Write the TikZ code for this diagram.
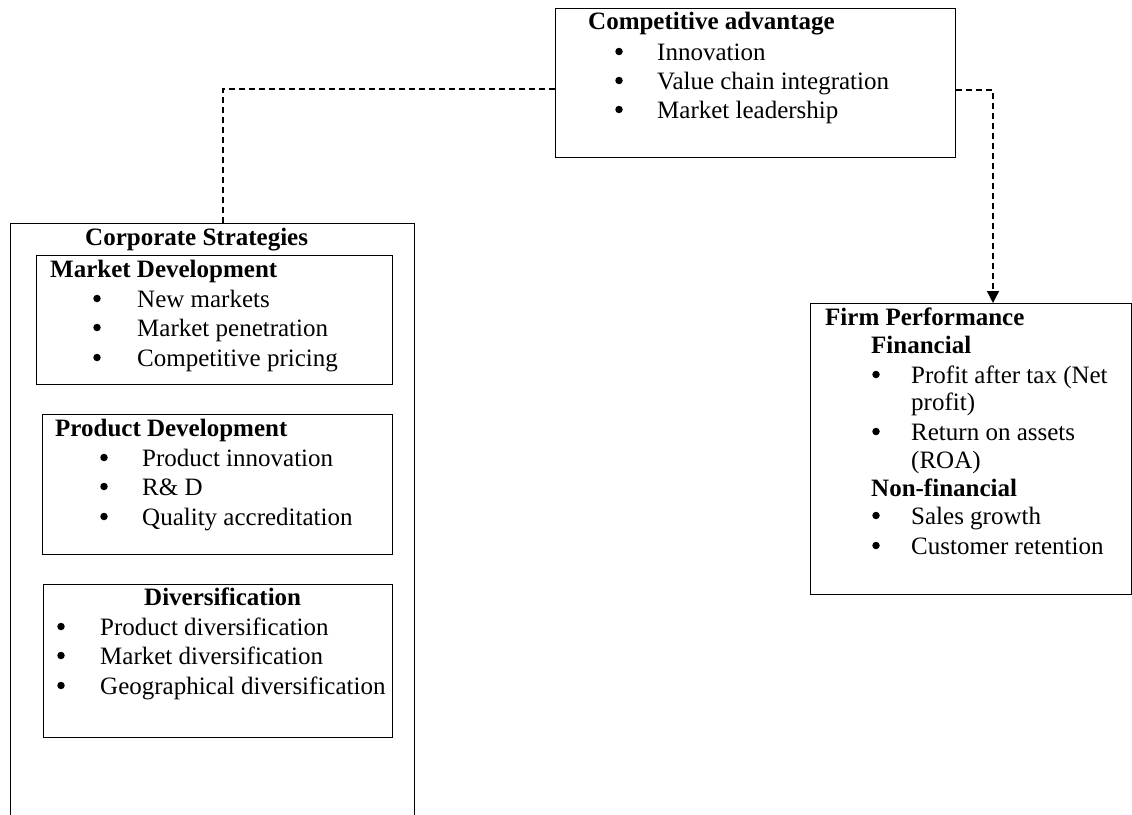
\documentclass[tikz,border=0pt]{standalone}
\usepackage{fontspec}
\setmainfont{Liberation Serif}
\usetikzlibrary{arrows.meta}
\begin{document}
\begin{tikzpicture}[x=1pt,y=-1pt,
 box/.style={draw, line width=1.3pt, inner sep=0pt, anchor=north west},
 txt/.style={anchor=base west, inner sep=0pt, font=\fontsize{25}{29}\selectfont},
 ttl/.style={anchor=base west, inner sep=0pt, font=\fontsize{25}{29}\selectfont\bfseries},
 bul/.style={circle, fill, inner sep=0pt, minimum size=7.5pt, yshift=8.5pt},
 conn/.style={line width=1.3pt, dash pattern=on 6pt off 4pt}]
\clip (0,0) rectangle (1132,814);
% boxes
\node[box, minimum width=400pt, minimum height=149pt] (ca) at (555,8) {};
\node[box, minimum width=404pt, minimum height=640pt] (cs) at (10,223) {};
\node[box, minimum width=356pt, minimum height=129pt] (md) at (36,255) {};
\node[box, minimum width=350pt, minimum height=140pt] (pd) at (42,414) {};
\node[box, minimum width=349pt, minimum height=153pt] (dv) at (43,584) {};
\node[box, minimum width=321pt, minimum height=291pt] (fp) at (810,303) {};
% competitive advantage
\node[ttl] (caT) at (588,29) {Competitive advantage};
\node[bul] (cab1) at (619,60) {};
\node[txt] (ca1) at (657,60) {Innovation};
\node[bul] (cab2) at (619,89) {};
\node[txt] (ca2) at (657,89) {Value chain integration};
\node[bul] (cab3) at (619,118) {};
\node[txt] (ca3) at (657,118) {Market leadership};
% corporate strategies
\node[ttl] (csT) at (85,245) {Corporate Strategies};
\node[ttl] (mdT) at (50,277) {Market Development};
\node[bul] (mdb1) at (97,307) {};
\node[txt] (md1) at (137,307) {New markets};
\node[bul] (mdb2) at (97,336) {};
\node[txt] (md2) at (137,336) {Market penetration};
\node[bul] (mdb3) at (97,366) {};
\node[txt] (md3) at (137,366) {Competitive pricing};
\node[ttl] (pdT) at (55,436) {Product Development};
\node[bul] (pdb1) at (104,466) {};
\node[txt] (pd1) at (142,466) {Product innovation};
\node[bul] (pdb2) at (104,495) {};
\node[txt] (pd2) at (142,495) {R\& D};
\node[bul] (pdb3) at (104,525) {};
\node[txt] (pd3) at (142,525) {Quality accreditation};
\node[ttl] (dvT) at (144,605) {Diversification};
\node[bul] (dvb1) at (61,635) {};
\node[txt] (dv1) at (100,635) {Product diversification};
\node[bul] (dvb2) at (61,664) {};
\node[txt] (dv2) at (100,664) {Market diversification};
\node[bul] (dvb3) at (61,694) {};
\node[txt] (dv3) at (100,694) {Geographical diversification};
% firm performance
\node[ttl] (fpT) at (825,325) {Firm Performance};
\node[ttl] (fpF) at (871,353) {Financial};
\node[bul] (fpb1) at (876,383) {};
\node[txt] (fp1) at (911,383) {Profit after tax (Net};
\node[txt] (fp1b) at (911,410) {profit)};
\node[bul] (fpb2) at (876,440) {};
\node[txt] (fp2) at (911,440) {Return on assets};
\node[txt] (fp2b) at (911,468) {(ROA)};
\node[ttl] (fpN) at (871,496) {Non-financial};
\node[bul] (fpb3) at (876,524) {};
\node[txt] (fp3) at (911,524) {Sales growth};
\node[bul] (fpb4) at (876,554) {};
\node[txt] (fp4) at (911,554) {Customer retention};
% connectors
\draw[conn] (ca.west |- 0,89) -| (cs.north -| 223,0);
\draw[conn, -{Triangle[length=12pt,width=12pt]}] (ca.east |- 0,90) -| (fp.north -| 993,0);
\end{tikzpicture}
\end{document}
